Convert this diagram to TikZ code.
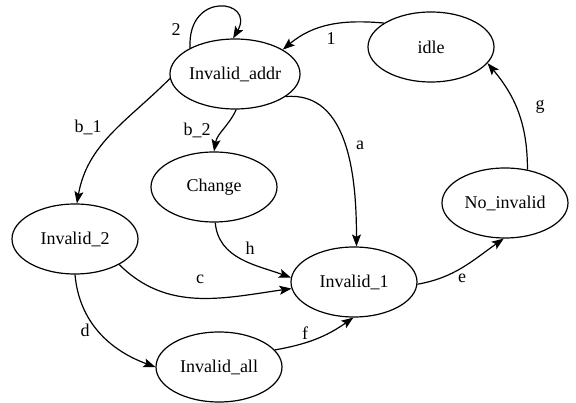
\documentclass[tikz,border=0pt]{standalone}
\usepackage{fontspec}
\setmainfont{Liberation Serif}
\usetikzlibrary{shapes.geometric,arrows.meta}
\begin{document}
\begin{tikzpicture}[x=1pt,y=-1pt,
  state/.style={draw,ellipse,line width=1.2pt,minimum width=126pt,minimum height=70pt,inner sep=0pt,font=\rmfamily\fontsize{18}{20}\selectfont},
  edge/.style={draw,line width=1.2pt,-{Stealth[length=12pt,width=9pt,inset=2.5pt]}},
  lbl/.style={font=\rmfamily\fontsize{18}{20}\selectfont,inner sep=0pt}]
\useasboundingbox (0,0) rectangle (576,403);
\node[state] (idle) at (431,47) {idle};
\node[state] (addr) at (235,74) {Invalid\_addr};
\node[state] (chg) at (214,187) {Change};
\node[state] (inv2) at (75,239) {Invalid\_2};
\node[state] (inv1) at (354,282) {Invalid\_1};
\node[state] (noinv) at (505,203) {No\_invalid};
\node[state] (all) at (219,367) {Invalid\_all};

\draw[edge] (idle.153) to[out=175,in=40] (addr.27);
\draw[edge] (addr.150) .. controls +(-93:58) and +(-60:45) .. (addr.93);
\draw[edge] (addr.184) to[out=225,in=80] (inv2.87);
\draw[edge] (addr.-88) to[out=-115,in=80] (chg.90);
\draw[edge] (addr.-24) to[out=5,in=90] (inv1.86);
\draw[edge] (chg.-88) to[out=-85,in=160] (inv1.176);
\draw[edge] (inv2.-30) to[out=-45,in=188] (inv1.186);
\draw[edge] (inv2.-90) to[out=-85,in=160] (all.180);
\draw[edge] (all.17) to[out=10,in=-145] (inv1.-91);
\draw[edge] (inv1.-2) to[out=10,in=-145] (noinv.-92);
\draw[edge] (noinv.56) to[out=90,in=-50] (idle.-16);

\node[lbl] (l1) at (331,39) {1};
\node[lbl] (l2) at (176,30) {2};
\node[lbl] (lb1) at (88,127) {b\_1};
\node[lbl] (lb2) at (197,130) {b\_2};
\node[lbl] (la) at (360,145) {a};
\node[lbl] (lh) at (250,248) {h};
\node[lbl] (lc) at (200,279) {c};
\node[lbl] (ld) at (85,330) {d};
\node[lbl] (lf) at (305,333) {f};
\node[lbl] (le) at (462,278) {e};
\node[lbl] (lg) at (540,107) {g};
\end{tikzpicture}
\end{document}
